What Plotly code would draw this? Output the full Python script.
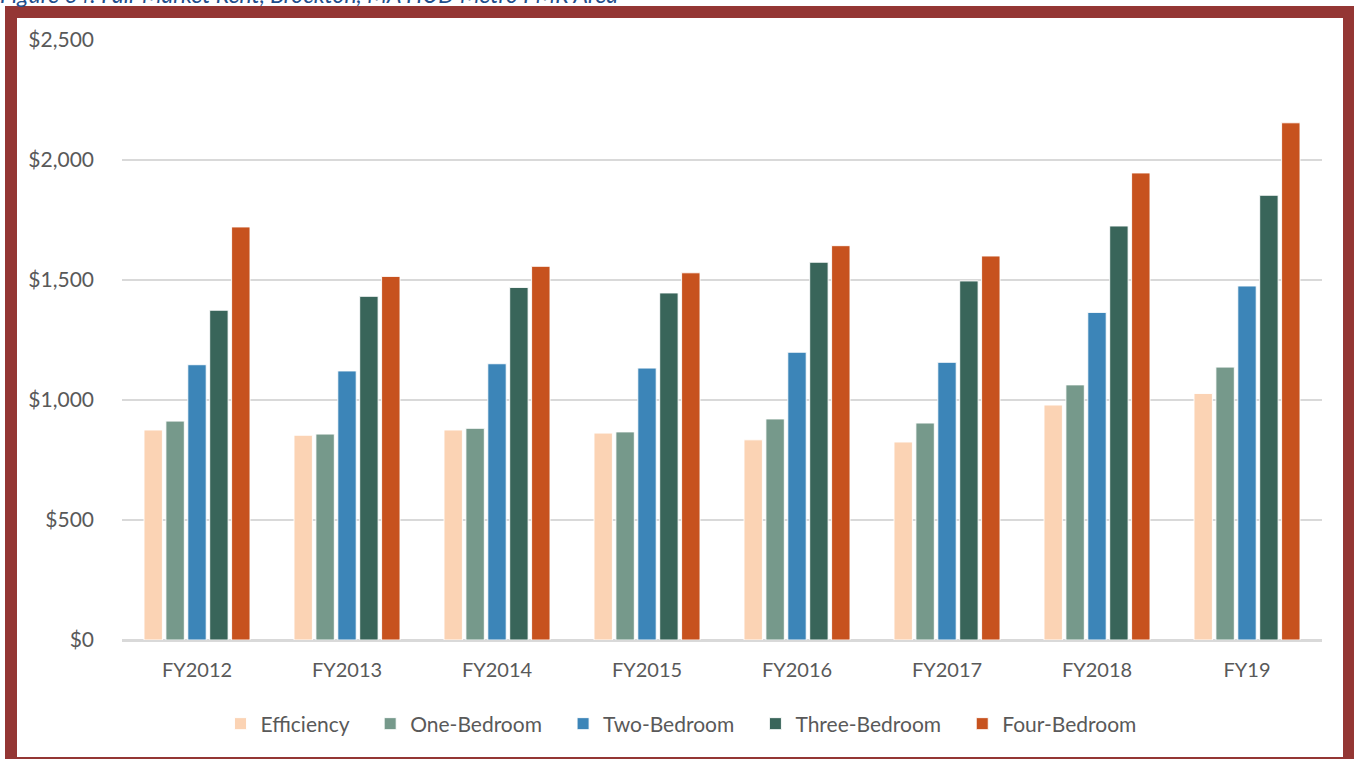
import plotly.graph_objects as go

years = ["FY2012", "FY2013", "FY2014", "FY2015", "FY2016", "FY2017", "FY2018", "FY19"]
efficiency = [875, 853, 875, 862, 834, 825, 979, 1027]
one_bedroom = [912, 858, 882, 867, 921, 904, 1063, 1137]
two_bedroom = [1147, 1121, 1151, 1133, 1199, 1157, 1365, 1475]
three_bedroom = [1374, 1432, 1469, 1446, 1574, 1496, 1725, 1853]
four_bedroom = [1721, 1515, 1557, 1530, 1643, 1600, 1946, 2155]

series_names = ["Efficiency", "One-Bedroom", "Two-Bedroom", "Three-Bedroom", "Four-Bedroom"]
series_values = [efficiency, one_bedroom, two_bedroom, three_bedroom, four_bedroom]
colors = ["#FBD3B4", "#76998B", "#3C85B8", "#39655A", "#C7521E"]

tick_vals = [0, 500, 1000, 1500, 2000, 2500]
tick_text = ["$0", "$500", "$1,000", "$1,500", "$2,000", "$2,500"]

FONT = "Lato"
GRAY = "#595959"
PAD = "\u00a0\u00a0\u00a0"

fig = go.Figure()
for i, (name, vals, c) in enumerate(zip(series_names, series_values, colors)):
    fig.add_trace(go.Bar(
        x=years, y=vals, name=name + (PAD if i < len(series_names) - 1 else ""),
        marker=dict(color=c, line=dict(color="rgba(255,255,255,0.9)", width=1)),
    ))

W, H = 1354, 759
L, R, T, B = 122, 32, 40, 119
pw, ph = W - L - R, H - T - B

def px2x(px):
    return (px - L) / pw

def px2y(py):
    return (H - B - py) / ph

fig.update_layout(
    width=W, height=H,
    margin=dict(l=L, r=R, t=T, b=B, pad=0),
    paper_bgcolor="white", plot_bgcolor="white",
    barmode="group", bargap=0.27, bargroupgap=0.16,
    font=dict(family=FONT, size=20, color=GRAY),
    showlegend=True,
    legend=dict(orientation="h", x=px2x(681), xanchor="center", y=px2y(724), yanchor="middle",
                font=dict(family=FONT, size=21, color=GRAY), itemwidth=30,
                traceorder="normal", bgcolor="rgba(0,0,0,0)"),
    xaxis=dict(showgrid=False, showline=True, linecolor="#D9D9D9", linewidth=1.5,
               ticks="", ticklabelstandoff=11,
               tickfont=dict(family=FONT, size=20, color=GRAY)),
    yaxis=dict(range=[0, 2500], tickvals=tick_vals, ticktext=tick_text,
               showgrid=True, gridcolor="#D9D9D9", gridwidth=1.5,
               zeroline=True, zerolinecolor="#D9D9D9", zerolinewidth=1.5,
               showline=False, ticks="", ticklabelstandoff=27,
               tickfont=dict(family=FONT, size=21, color=GRAY)),
    shapes=[dict(type="rect", xref="paper", yref="paper",
                 x0=px2x(11), x1=px2x(1349), y0=px2y(763), y1=px2y(12),
                 line=dict(color="#943634", width=12), fillcolor="rgba(0,0,0,0)",
                 layer="above")],
    annotations=[dict(text="<i>Figure 64: Fair Market Rent, Brockton, MA HUD Metro FMR Area</i>",
                      xref="paper", yref="paper", x=px2x(-2), y=px2y(-6),
                      xanchor="left", yanchor="middle", showarrow=False,
                      font=dict(family=FONT, size=23, color="#1F4E8C"))],
)

fig.write_html("out.html", config={"displayModeBar": False},
               post_script="document.body.style.margin='0px';document.body.style.padding='0px';")
